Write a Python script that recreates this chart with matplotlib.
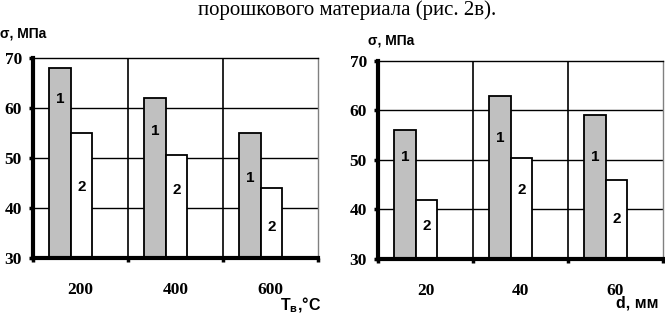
import matplotlib.pyplot as plt

plt.rcParams['mathtext.fontset'] = 'custom'
plt.rcParams['mathtext.bf'] = 'Liberation Sans:bold'
plt.rcParams['mathtext.rm'] = 'Liberation Sans:bold'

# left panel: temperature
temp_labels = ["200", "400", "600"]
temp_s1 = [68, 62, 55]
temp_s2 = [55, 50.5, 44]
temp_lab1 = [61.8, 55.3, 46]
temp_lab2 = [44.3, 43.6, 36.3]

# right panel: diameter
diam_labels = ["20", "40", "60"]
diam_s1 = [56, 63, 59]
diam_s2 = [42, 50.5, 46]
diam_lab1 = [50.7, 54.4, 50.7]
diam_lab2 = [36.7, 44, 38]

serif = "Liberation Serif"
sans = "Liberation Sans"

fig = plt.figure(figsize=(6.65, 3.16), dpi=100)
ax1 = fig.add_axes([0.0496, 0.1835, 0.4286, 0.633])
ax2 = fig.add_axes([0.5684, 0.1804, 0.4286, 0.6266])


def draw(ax, cats, s1, s2, lab1, lab2):
    x = list(range(len(cats)))
    w = 0.226
    ax.bar([i - 0.215 for i in x], s1, width=w, color="#c0c0c0",
           edgecolor="black", linewidth=1.3, zorder=2)
    ax.bar([i + 0.011 for i in x], s2, width=w, color="white",
           edgecolor="black", linewidth=1.3, zorder=2)
    for i in x:
        ax.text(i - 0.215, lab1[i], "1", ha="center", va="center",
                fontsize=11, fontweight="bold", family=sans, zorder=4)
        ax.text(i + 0.011, lab2[i], "2", ha="center", va="center",
                fontsize=11, fontweight="bold", family=sans, zorder=4)
    ax.set_xlim(-0.5, 2.5)
    ax.set_ylim(30, 70)
    ax.set_yticks([30, 40, 50, 60, 70])
    ax.set_xticks(x)
    ax.set_xticklabels(cats)
    ax.set_xticks([-0.5, 0.5, 1.5, 2.5], minor=True)
    for yv in [40, 50, 60]:
        ax.axhline(yv, color="black", lw=1.0, zorder=1)
    for xv in [0.5, 1.5]:
        ax.axvline(xv, color="black", lw=1.2, zorder=1)
    for s in ax.spines.values():
        s.set_zorder(5)
    ax.spines["left"].set_linewidth(3)
    ax.spines["bottom"].set_linewidth(3)
    ax.spines["top"].set_linewidth(1.0)
    ax.spines["right"].set_linewidth(1.0)
    ax.spines["right"].set_color("#808080")
    ax.tick_params(axis="y", direction="out", length=3, width=2.5, pad=5)
    ax.tick_params(axis="x", which="major", length=0, pad=17)
    ax.tick_params(axis="x", which="minor", direction="out", length=3, width=2.5)
    for t in ax.get_xticklabels() + ax.get_yticklabels():
        t.set_fontfamily(serif)
        t.set_fontweight("bold")
        t.set_fontsize(12.5)


draw(ax1, temp_labels, temp_s1, temp_s2, temp_lab1, temp_lab2)
draw(ax2, diam_labels, diam_s1, diam_s2, diam_lab1, diam_lab2)

fig.text(0.522, 0.968, "порошкового материала (рис. 2в).", ha="center", va="center",
         fontsize=15, family=serif)
fig.text(0.0, 0.895, "σ, МПа", ha="left", va="center", fontsize=10,
         fontweight="bold", family=sans)
fig.text(0.553, 0.873, "σ, МПа", ha="left", va="center", fontsize=10,
         fontweight="bold", family=sans)
fig.text(0.452, 0.035, r"$\mathbf{T_в}$,°C", ha="center", va="center", fontsize=11.5,
         fontweight="bold", family=sans)
fig.text(0.958, 0.04, "d, мм", ha="center", va="center", fontsize=11.5,
         fontweight="bold", family=sans)

fig.savefig("out.png", dpi=100)
